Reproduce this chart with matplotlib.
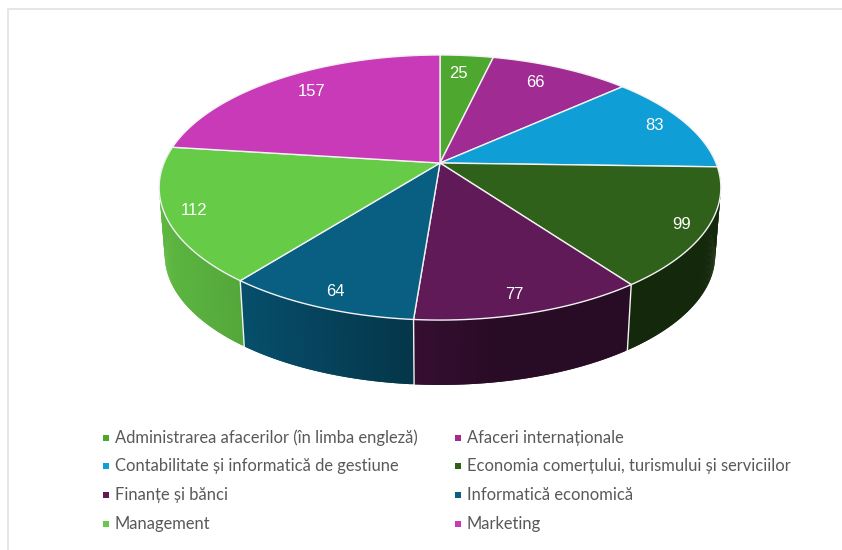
import numpy as np
import matplotlib
matplotlib.use('Agg')
import matplotlib.pyplot as plt
from matplotlib.patches import Polygon, Rectangle

categories = ['Administrarea afacerilor (în limba engleză)', 'Afaceri internaționale',
              'Contabilitate și informatică de gestiune', 'Economia comerțului, turismului și serviciilor',
              'Finanțe și bănci', 'Informatică economică', 'Management', 'Marketing']
values = [25, 66, 83, 99, 77, 64, 112, 157]
colors = ['#4EA72E', '#A02B93', '#0F9ED5', '#2F611B', '#5F1A57', '#085F82', '#66CB47', '#C83AB8']
label_nudge = [(-5, 6), (-12, 4), (1, -1), (12, 5), (-3, 5), (-2, 6), (-9, 3), (13, 3)]

# pie geometry in pixels, with a simple perspective so the front looks bigger
CX, CY = 440, 163
A, B, K = 276, 128, 0.185
DEPTH, SHRINK = 68, 0.98


def project(angle, r=1.0, bottom=False):
    # angle in radians, clockwise from 12 o'clock
    u = r * np.sin(angle)
    v = -r * np.cos(angle)
    d = 1 - K * v
    x = A * u / d
    y = B * v / d
    if bottom:
        return CX + SHRINK * x, CY + SHRINK * y + DEPTH
    return CX + x, CY + y


def wall_shade(x):
    return np.interp(x, [160, 245, 413, 500, 720], [0.90, 0.82, 0.56, 0.42, 0.42])


fig = plt.figure(figsize=(8.42, 5.5), dpi=100)
ax = fig.add_axes([0, 0, 1, 1])
ax.set_xlim(0, 842)
ax.set_ylim(550, 0)
ax.axis('off')

# chart frame runs off the picture on the right and at the bottom
ax.plot([8, 8, 842], [550, 9, 9], color='#E6E6E6', lw=1.4, zorder=0)

edges = np.cumsum([0] + values) / sum(values) * 2 * np.pi
front0, front1 = np.radians(80), np.radians(280)

# side walls first, strips overlap the next one so no seams show
for i, c in enumerate(colors):
    t0, t1 = max(edges[i], front0), min(edges[i + 1], front1)
    if t0 >= t1:
        continue
    rgb = np.array(matplotlib.colors.to_rgb(c))
    ts = np.linspace(t0, t1, int((t1 - t0) * 120) + 2)
    for j in range(len(ts) - 1):
        a, b = ts[j], ts[min(j + 2, len(ts) - 1)]
        arc = np.linspace(a, b, 4)
        xs, ys = project(arc)
        xb, yb = project(arc[::-1], bottom=True)
        col = rgb * wall_shade(xs.mean())
        ax.add_patch(Polygon(list(zip(xs, ys)) + list(zip(xb, yb)), closed=True,
                             fc=col, ec='none', zorder=1))

# white seams on the wall between slices
for e in edges[1:-1]:
    if np.radians(100) < e < np.radians(260):
        xa, ya = project(e)
        xb, yb = project(e, bottom=True)
        ax.plot([xa, xb], [ya, yb], color='#F2F2F2', lw=1.0, zorder=2)

# top of the pie
for i, c in enumerate(colors):
    ts = np.linspace(edges[i], edges[i + 1], 80)
    xs, ys = project(ts)
    pts = [(CX, CY)] + list(zip(xs, ys))
    ax.add_patch(Polygon(pts, closed=True, fc=c, ec='#F2F2F2', lw=1.0, joinstyle='round', zorder=3))

# value labels
for i, val in enumerate(values):
    mid = (edges[i] + edges[i + 1]) / 2
    x, y = project(mid, r=0.87)
    ax.text(x + label_nudge[i][0], y + label_nudge[i][1], str(val), color='white', fontsize=12,
            family='Liberation Sans', ha='center', va='center', zorder=4)

# legend, two columns
for i, name in enumerate(categories):
    col_x = 106 if i % 2 == 0 else 458
    row_y = 437.5 + (i // 2) * 28.7
    ax.add_patch(Rectangle((col_x - 3, row_y - 3), 6, 6, fc=colors[i], ec='none', zorder=4))
    ax.text(col_x + 9, row_y, name, color='#595959', fontsize=11.9, family='Lato',
            ha='left', va='center', zorder=4)

plt.savefig('out.png', dpi=100)
